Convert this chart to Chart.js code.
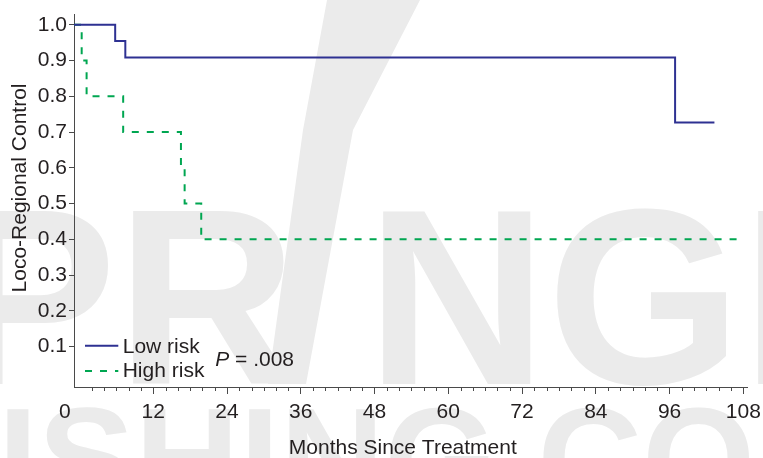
<!DOCTYPE html>
<html>
<head>
<meta charset="utf-8">
<title>Loco-Regional Control by Risk Group</title>
<script src="https://cdn.jsdelivr.net/npm/chart.js@4.4.1/dist/chart.umd.min.js"></script>
<style>
  html, body { margin: 0; padding: 0; background: #ffffff; }
  #wrap { position: relative; width: 763px; height: 458px; }
</style>
</head>
<body>
<div id="wrap"><canvas id="km" width="763" height="458"></canvas></div>
<script>
// ---- data -------------------------------------------------------------
const seriesNames = ['Low risk', 'High risk'];

// Kaplan-Meier estimates: month at which each level starts, and the level
const lowRiskMonths   = [0, 5.8, 7.45, 96.9, 103.3];
const lowRiskControl  = [1.0, 0.955, 0.909, 0.727, 0.727];

const highRiskMonths  = [0, 0.35, 1.15, 7.1, 16.5, 17.1, 19.8, 107.2];
const highRiskControl = [1.0, 0.9, 0.8, 0.7, 0.6, 0.5, 0.4, 0.4];

const xTickValues = [0, 12, 24, 36, 48, 60, 72, 84, 96, 108];
const yTickValues = [0.1, 0.2, 0.3, 0.4, 0.5, 0.6, 0.7, 0.8, 0.9, 1.0];

const xAxisTitle = 'Months Since Treatment';
const yAxisTitle = 'Loco-Regional Control';
const pValueSymbol = 'P';
const pValueText = ' = .008';

// ---- styling ----------------------------------------------------------
const FONT_FAMILY = "'Liberation Sans', Arial, Helvetica, sans-serif";
const FONT_SIZE = 21;
const TEXT_COLOR = '#231f20';
const AXIS_COLOR = '#4a4a4a';
const LOW_COLOR = '#2e3192';
const HIGH_COLOR = '#00a651';
const WATERMARK_COLOR = '#ebebeb';
const X_MIN = -0.9, X_MAX = 108.6;
const Y_MIN = -0.0134, Y_MAX = 1.0287;

// step series; the first level is carried back to the left edge of the plot
function stepPoints(months, values) {
  const pts = months.map((m, i) => ({ x: m, y: values[i] }));
  pts.unshift({ x: X_MIN, y: values[0] });
  return pts;
}

// faint publisher mark behind the plot: SPR / NGER with a slash for the I,
// and PUBLISHING.COM along the bottom
const watermark = {
  id: 'watermark',
  beforeDraw(chart) {
    const { ctx } = chart;
    ctx.save();
    ctx.fillStyle = WATERMARK_COLOR;
    ctx.textAlign = 'left';
    ctx.textBaseline = 'alphabetic';

    ctx.font = `bold 250px ${FONT_FAMILY}`;
    const x0 = -217;
    ctx.fillText('SPR', x0, 384);
    ctx.fillText('NGER', x0 + ctx.measureText('SPRI').width, 384);

    ctx.beginPath();
    ctx.moveTo(327, 0);
    ctx.lineTo(420, 0);
    ctx.lineTo(353, 130);
    ctx.lineTo(306, 384);
    ctx.lineTo(268, 384);
    ctx.lineTo(303, 130);
    ctx.closePath();
    ctx.fill();

    ctx.font = `bold 145px ${FONT_FAMILY}`;
    ctx.fillText('PUBLISHING.COM', -397, 509);
    ctx.restore();
  }
};

// minor ticks every 2 months between the labelled ones
const minorTicks = {
  id: 'minorTicks',
  afterDraw(chart) {
    const { ctx, scales: { x }, chartArea } = chart;
    ctx.save();
    ctx.strokeStyle = AXIS_COLOR;
    ctx.lineWidth = 1;
    for (let m = 2; m < 108; m += 2) {
      if (m % 12 === 0) continue;
      const px = Math.round(x.getPixelForValue(m)) + 0.5;
      ctx.beginPath();
      ctx.moveTo(px, chartArea.bottom);
      ctx.lineTo(px, chartArea.bottom + 4);
      ctx.stroke();
    }
    ctx.restore();
  }
};

// axis captions, in-plot legend and the log-rank p value
const captions = {
  id: 'captions',
  afterDraw(chart) {
    const { ctx } = chart;
    const regular = `${FONT_SIZE}px ${FONT_FAMILY}`;
    ctx.save();
    ctx.fillStyle = TEXT_COLOR;
    ctx.font = regular;
    ctx.textBaseline = 'alphabetic';

    // x axis title
    ctx.textAlign = 'center';
    ctx.fillText(xAxisTitle, 402.8, 454);

    // y axis title
    ctx.save();
    ctx.translate(25.5, 188);
    ctx.rotate(-Math.PI / 2);
    ctx.fillText(yAxisTitle, 0, 0);
    ctx.restore();

    // legend
    ctx.textAlign = 'left';
    const rows = [{ lineY: 345.7, textY: 352.7 }, { lineY: 371, textY: 377.3 }];
    chart.data.datasets.forEach((ds, i) => {
      const r = rows[i];
      ctx.save();
      ctx.strokeStyle = ds.borderColor;
      ctx.lineWidth = ds.borderWidth;
      ctx.setLineDash(ds.borderDash || []);
      ctx.beginPath();
      ctx.moveTo(85, r.lineY);
      ctx.lineTo(118.3, r.lineY);
      ctx.stroke();
      ctx.restore();
      ctx.fillText(ds.label, 122.7, r.textY);
    });

    // p value
    ctx.font = `italic ${FONT_SIZE}px ${FONT_FAMILY}`;
    ctx.fillText(pValueSymbol, 215.2, 366);
    const w = ctx.measureText(pValueSymbol).width;
    ctx.font = regular;
    ctx.fillText(pValueText, 215.2 + w, 366);
    ctx.restore();
  }
};

new Chart(document.getElementById('km'), {
  type: 'line',
  data: {
    datasets: [
      {
        label: seriesNames[0],
        data: stepPoints(lowRiskMonths, lowRiskControl),
        borderColor: LOW_COLOR,
        borderWidth: 2,
        stepped: true,
        pointRadius: 0,
        fill: false
      },
      {
        label: seriesNames[1],
        data: stepPoints(highRiskMonths, highRiskControl),
        borderColor: HIGH_COLOR,
        borderWidth: 2,
        borderDash: [7, 8],
        stepped: true,
        pointRadius: 0,
        fill: false
      }
    ]
  },
  options: {
    responsive: false,
    animation: false,
    events: [],
    layout: { padding: { left: 0, top: 13, right: 16, bottom: 0 } },
    plugins: { legend: { display: false }, tooltip: { enabled: false } },
    scales: {
      x: {
        type: 'linear',
        min: X_MIN,
        max: X_MAX,
        afterBuildTicks(s) { s.ticks = xTickValues.map(v => ({ value: v })); },
        afterFit(s) {
          s.height = 71;
          // end labels may overhang; the layout padding already leaves room
          s.paddingLeft = 0;
          s.paddingRight = 0;
        },
        border: { color: AXIS_COLOR, width: 1 },
        grid: {
          drawOnChartArea: false,
          drawTicks: true,
          tickLength: 7,
          tickWidth: 1,
          tickColor: c => (c.tick && c.tick.value === 0) ? 'rgba(0,0,0,0)' : AXIS_COLOR
        },
        ticks: {
          autoSkip: false,
          maxRotation: 0,
          padding: 6,
          color: TEXT_COLOR,
          font: { family: FONT_FAMILY, size: FONT_SIZE },
          // the zero label sits a little left of its position, clear of the y axis
          callback: v => v === 0 ? '0\u00a0\u00a0\u00a0\u00a0\u00a0' : String(v)
        }
      },
      y: {
        type: 'linear',
        min: Y_MIN,
        max: Y_MAX,
        afterBuildTicks(s) { s.ticks = yTickValues.map(v => ({ value: v })); },
        afterFit(s) { s.width = 74; },
        border: { color: AXIS_COLOR, width: 1 },
        grid: { drawOnChartArea: false, drawTicks: true, tickLength: 5, tickWidth: 1, tickColor: AXIS_COLOR },
        ticks: {
          padding: 2,
          color: TEXT_COLOR,
          font: { family: FONT_FAMILY, size: FONT_SIZE },
          callback: v => v.toFixed(1)
        }
      }
    }
  },
  plugins: [watermark, minorTicks, captions]
});
</script>
</body>
</html>
